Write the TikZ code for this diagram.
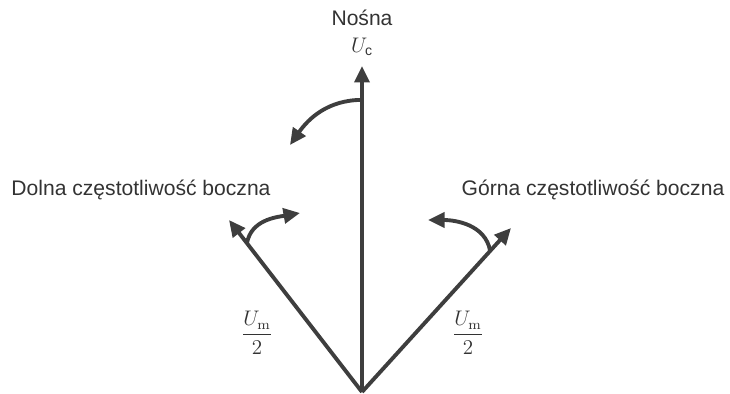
\documentclass[tikz,border=0pt]{standalone}
\usepackage{amsmath}
\usepackage[no-math]{fontspec}
\setmainfont{Liberation Sans}
\usetikzlibrary{arrows.meta,calc}
\definecolor{Ink}{HTML}{3E3E3E}
\definecolor{Txt}{HTML}{333333}

\begin{document}
\begin{tikzpicture}[
    vec/.style={Ink,line width=2.2pt,-{Triangle[length=3.3mm,width=3mm]}},
    turn/.style={Ink,line width=2.2pt,-{Triangle[length=3.3mm,width=3mm]}},
    lbl/.style={text=Txt,font=\fontsize{12}{14}\selectfont,inner sep=1pt},
    mathlbl/.style={text=Txt,font=\fontsize{12}{14}\selectfont,inner sep=1pt}
  ]
    \useasboundingbox (0,0) rectangle (14.6,7.88);
    % vectors
    \coordinate (O) at (7.24,0.04);
    \coordinate (c) at (7.24,6.56);
    \coordinate (lo) at (4.58,3.48);
    \coordinate (up) at (10.22,3.32);
    \draw[vec] (O) -- (c);
    \draw[vec] (O) -- (lo);
    \draw[vec] (O) -- (up);
    % rotation arrows
    \coordinate (cs) at ($(O)!0.896!(c)$);
    \coordinate (ce) at (5.80,4.98);
    \coordinate (ls) at ($(O)!0.865!(lo)$);
    \coordinate (le) at (6.00,3.62);
    \coordinate (us) at ($(O)!0.86!(up)$);
    \coordinate (ue) at (8.56,3.48);
    \draw[turn] (cs) to[out=180,in=55] (ce);
    \draw[turn] (ls) to[out=80,in=190] (le);
    \draw[turn] (us) to[out=100,in=0] (ue);
    % labels
    \node[lbl] (nosna) at (7.24,7.52) {Nośna};
    \node[mathlbl] (uc) at (7.24,6.94) {$U_{\text{c}}$};
    \node[lbl] (dolna) at (2.82,4.08) {Dolna częstotliwość boczna};
    \node[lbl] (gorna) at (11.86,4.08) {Górna częstotliwość boczna};
    \node[mathlbl] (uml) at (5.14,1.22) {$\dfrac{U_{\mathrm{m}}}{2}$};
    \node[mathlbl] (umr) at (9.36,1.22) {$\dfrac{U_{\mathrm{m}}}{2}$};
  \end{tikzpicture}
\end{document}
